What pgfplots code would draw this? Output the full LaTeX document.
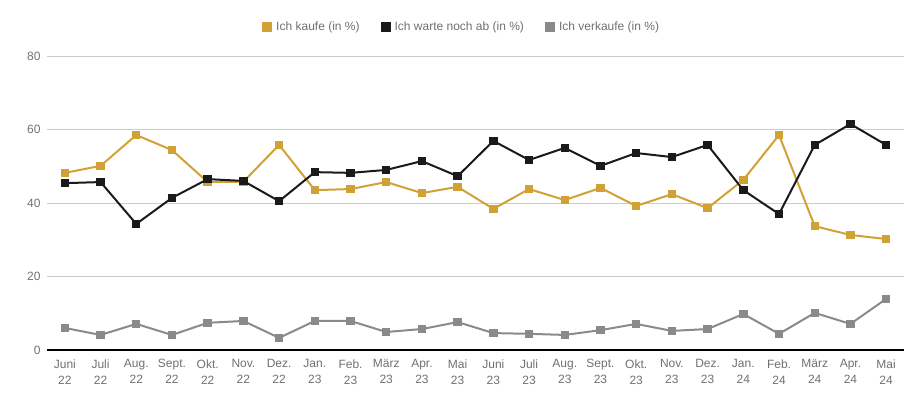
\documentclass[border=0pt]{standalone}
\usepackage{pgfplots}
\pgfplotsset{compat=1.18}
\usepackage{fontspec}
\setmainfont{Liberation Sans}
\definecolor{cgold}{HTML}{D2A136}
\definecolor{cblack}{HTML}{1A1A1A}
\definecolor{cgray}{HTML}{8A8A8A}
\definecolor{ctext}{HTML}{707070}
\definecolor{cgrid}{HTML}{CCCCCC}
\begin{document}
\begin{tikzpicture}
\useasboundingbox (-47bp,-57bp) rectangle (877bp,350bp);
\begin{axis}[
  at={(0,0)}, anchor=south west,
  scale only axis,
  width=857bp, height=294bp,
  xmin=-0.5, xmax=23.5,
  ymin=0, ymax=80,
  ytick={0,20,40,60,80},
  xtick={0,...,23},
  xticklabels={{Juni\\22},{Juli\\22},{Aug.\\22},{Sept.\\22},{Okt.\\22},{Nov.\\22},{Dez.\\22},{Jan.\\23},{Feb.\\23},{März\\23},{Apr.\\23},{Mai\\23},{Juni\\23},{Juli\\23},{Aug.\\23},{Sept.\\23},{Okt.\\23},{Nov.\\23},{Dez.\\23},{Jan.\\24},{Feb.\\24},{März\\24},{Apr.\\24},{Mai\\24}},
  x tick label style={align=center, font=\fontsize{12bp}{16bp}\selectfont, text=ctext, yshift=-6bp},
  y tick label style={font=\fontsize{12bp}{14bp}\selectfont, text=ctext, xshift=-3bp},
  /pgf/number format/assume math mode=true,
  major tick length=0pt,
  ymajorgrids,
  grid style={cgrid, line width=0.9bp},
  axis x line*=bottom,
  x axis line style={-, black, line width=1.3bp},
  y axis line style={draw=none},
  clip=false,
  legend columns=3,
  legend style={draw=none, fill=none, at={(0.485,1.0986)}, anchor=center,
    font=\fontsize{12bp}{14bp}\selectfont, text=ctext,
    /tikz/every even column/.append style={column sep=17bp},
    nodes={inner xsep=4bp}},
  legend image code/.code={\fill[#1] (0bp,-4bp) rectangle (8bp,4bp);},
  every axis plot/.append style={line width=2bp, mark=square*, mark size=3.2bp, mark options={line width=0.6bp}},
]
\addplot[color=cgold, mark options={fill=cgold, draw=cgold}] coordinates {
(0,48.2) (1,50.1) (2,58.5) (3,54.4) (4,45.7) (5,45.8) (6,55.8) (7,43.5) (8,43.8) (9,45.7) (10,42.7) (11,44.4) (12,38.4) (13,43.8) (14,40.8) (15,44.1) (16,39.2) (17,42.4) (18,38.6) (19,46.3) (20,58.5) (21,33.7) (22,31.3) (23,30.2)};
\addlegendentry{Ich kaufe (in \%)}
\addplot[color=cblack, mark options={fill=cblack, draw=cblack}] coordinates {
(0,45.4) (1,45.7) (2,34.3) (3,41.4) (4,46.5) (5,46.0) (6,40.5) (7,48.4) (8,48.2) (9,49.0) (10,51.4) (11,47.3) (12,56.9) (13,51.7) (14,55.0) (15,50.1) (16,53.6) (17,52.5) (18,55.8) (19,43.5) (20,37.0) (21,55.8) (22,61.5) (23,55.8)};
\addlegendentry{Ich warte noch ab (in \%)}
\addplot[color=cgray, mark options={fill=cgray, draw=cgray}] coordinates {
(0,6.0) (1,4.1) (2,7.1) (3,4.1) (4,7.4) (5,7.9) (6,3.3) (7,7.9) (8,7.9) (9,4.9) (10,5.7) (11,7.6) (12,4.6) (13,4.4) (14,4.1) (15,5.4) (16,7.1) (17,5.2) (18,5.7) (19,9.8) (20,4.4) (21,10.1) (22,7.1) (23,13.9)};
\addlegendentry{Ich verkaufe (in \%)}
\end{axis}
\end{tikzpicture}
\end{document}
